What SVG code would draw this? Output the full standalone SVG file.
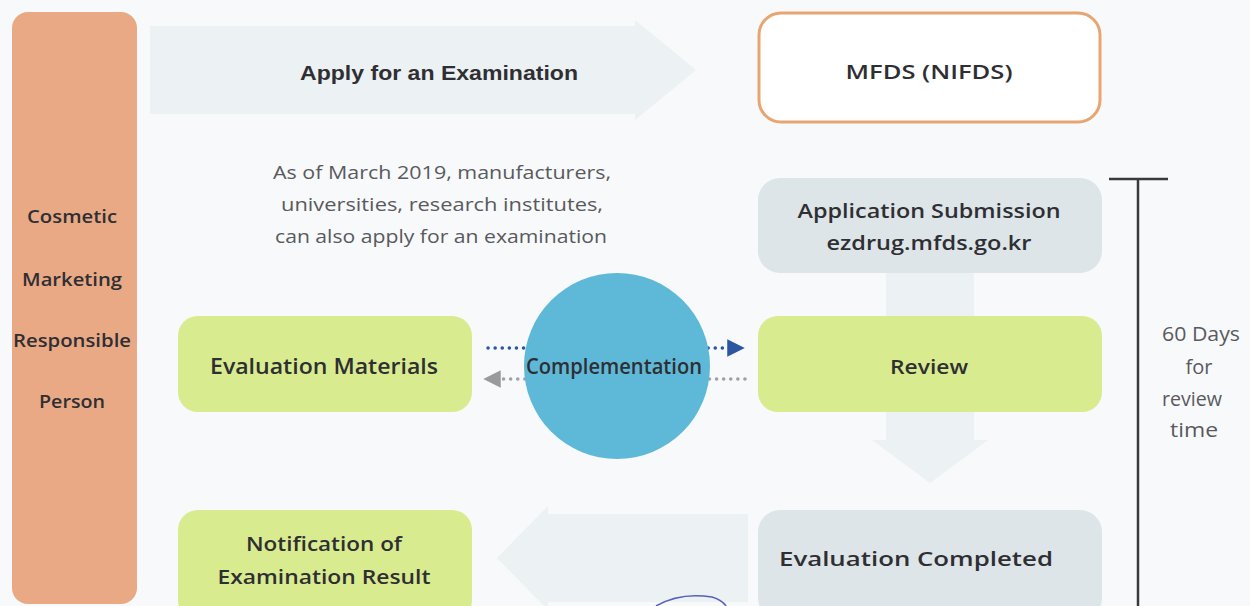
<svg xmlns="http://www.w3.org/2000/svg" width="1250" height="606" viewBox="0 0 1250 606">
  <defs>
    <style>
      .lbl { font-family: "Open Sans", "Noto Sans", "DejaVu Sans", sans-serif; font-weight: 600; fill: #2f2f33; text-anchor: middle; dominant-baseline: central; }
      .ar { font-family: "Liberation Sans", Arial, sans-serif; font-weight: 700; fill: #2f2f33; text-anchor: middle; dominant-baseline: central; }
      .note { font-family: "Open Sans", "Noto Sans", sans-serif; font-weight: 400; fill: #5a5a5e; text-anchor: middle; dominant-baseline: central; }
      .green { fill: #d9eb8f; }
      .pale { fill: #dde5e9; }
      .flow { fill: #ecf1f3; }
    </style>
    <marker id="headBlue" viewBox="0 0 10 10" refX="5" refY="5" markerWidth="5" markerHeight="5" orient="auto" markerUnits="strokeWidth">
      <path d="M0,0 L10,5 L0,10 z" fill="#2c56a0"/>
    </marker>
    <marker id="headGrey" viewBox="0 0 10 10" refX="5" refY="5" markerWidth="5" markerHeight="5" orient="auto" markerUnits="strokeWidth">
      <path d="M0,0 L10,5 L0,10 z" fill="#9a9a9e"/>
    </marker>
  </defs>

  <rect x="0" y="0" width="1250" height="606" fill="#f7f9fa"/>

  <g id="connectors">
    <path class="flow" d="M150,26 L635,26 L635,20 L696,70 L635,120 L635,114 L150,114 z"/>
    <path class="flow" d="M886,270 L974,270 L974,440 L988,440 L930,483 L872,440 L886,440 z"/>
    <path class="flow" d="M748,514 L548,514 L548,506 L497,558 L548,610 L548,602 L748,602 z"/>
    <line x1="488" y1="348" x2="736" y2="348" stroke="#2c56a0" stroke-width="3.5" stroke-dasharray="0.1 7" stroke-linecap="round" marker-end="url(#headBlue)"/>
    <line x1="745" y1="379" x2="492" y2="379" stroke="#a0a0a4" stroke-width="3.5" stroke-dasharray="0.1 7" stroke-linecap="round" marker-end="url(#headGrey)"/>
    <line x1="1138" y1="179" x2="1138" y2="606" stroke="#3a3a3e" stroke-width="2.5"/>
    <line x1="1109" y1="179" x2="1168" y2="179" stroke="#3a3a3e" stroke-width="2.5"/>
  </g>

  <g id="responsible-person">
    <rect x="12" y="12" width="125" height="592" rx="16" fill="#e9a985"/>
    <text class="lbl" x="72" y="216" font-size="18" textLength="90" lengthAdjust="spacingAndGlyphs">Cosmetic</text>
    <text class="lbl" x="72" y="279" font-size="18" textLength="100" lengthAdjust="spacingAndGlyphs">Marketing</text>
    <text class="lbl" x="72" y="340" font-size="18" textLength="118" lengthAdjust="spacingAndGlyphs">Responsible</text>
    <text class="lbl" x="72" y="401" font-size="18" textLength="66" lengthAdjust="spacingAndGlyphs">Person</text>
  </g>

  <g id="apply">
    <text class="ar" x="439" y="72" font-size="21" textLength="278" lengthAdjust="spacingAndGlyphs">Apply for an Examination</text>
  </g>

  <g id="note">
    <text class="note" x="442" y="172" font-size="18" textLength="338" lengthAdjust="spacingAndGlyphs">As of March 2019, manufacturers,</text>
    <text class="note" x="442" y="204" font-size="18" textLength="322" lengthAdjust="spacingAndGlyphs">universities, research institutes,</text>
    <text class="note" x="441" y="236" font-size="18" textLength="332" lengthAdjust="spacingAndGlyphs">can also apply for an examination</text>
  </g>

  <g id="mfds">
    <rect x="759" y="13" width="341" height="109" rx="22" fill="#ffffff" stroke="#e8a572" stroke-width="3"/>
    <text class="lbl" x="929" y="72" font-size="19" textLength="167" lengthAdjust="spacingAndGlyphs">MFDS (NIFDS)</text>
  </g>

  <g id="application-submission">
    <rect class="pale" x="758" y="178" width="344" height="95" rx="22"/>
    <text class="lbl" x="929" y="210" font-size="20" textLength="263" lengthAdjust="spacingAndGlyphs">Application Submission</text>
    <text class="lbl" x="929" y="242" font-size="20" textLength="205" lengthAdjust="spacingAndGlyphs">ezdrug.mfds.go.kr</text>
  </g>

  <g id="review">
    <rect class="green" x="758" y="316" width="344" height="96" rx="20"/>
    <text class="lbl" x="929" y="366" font-size="20" textLength="78" lengthAdjust="spacingAndGlyphs">Review</text>
  </g>

  <g id="evaluation-completed">
    <rect class="pale" x="758" y="510" width="344" height="110" rx="22"/>
    <text class="lbl" x="916" y="558" font-size="20" textLength="274" lengthAdjust="spacingAndGlyphs">Evaluation Completed</text>
  </g>

  <g id="evaluation-materials">
    <rect class="green" x="178" y="316" width="294" height="96" rx="20"/>
    <text class="lbl" x="324" y="366" font-size="21" textLength="228" lengthAdjust="spacingAndGlyphs">Evaluation Materials</text>
  </g>

  <g id="notification">
    <rect class="green" x="178" y="510" width="294" height="110" rx="20"/>
    <text class="lbl" x="324" y="543" font-size="20" textLength="156" lengthAdjust="spacingAndGlyphs">Notification of</text>
    <text class="lbl" x="324" y="576" font-size="20" textLength="213" lengthAdjust="spacingAndGlyphs">Examination Result</text>
  </g>

  <g id="complementation">
    <circle cx="617" cy="366" r="93" fill="#5eb9d8"/>
    <text class="lbl" x="614" y="366" font-size="21" textLength="176" lengthAdjust="spacingAndGlyphs">Complementation</text>
  </g>

  <g id="review-time">
    <text class="note" x="1201" y="333" font-size="20" textLength="78" lengthAdjust="spacingAndGlyphs">60 Days</text>
    <text class="note" x="1199" y="366" font-size="20">for</text>
    <text class="note" x="1192" y="398" font-size="20" textLength="60" lengthAdjust="spacingAndGlyphs">review</text>
    <text class="note" x="1194" y="429" font-size="20" textLength="48" lengthAdjust="spacingAndGlyphs">time</text>
  </g>

  <path d="M656,606 Q680,592 712,597 Q722,600 726,606" fill="none" stroke="#5560b8" stroke-width="1.5"/>
</svg>
